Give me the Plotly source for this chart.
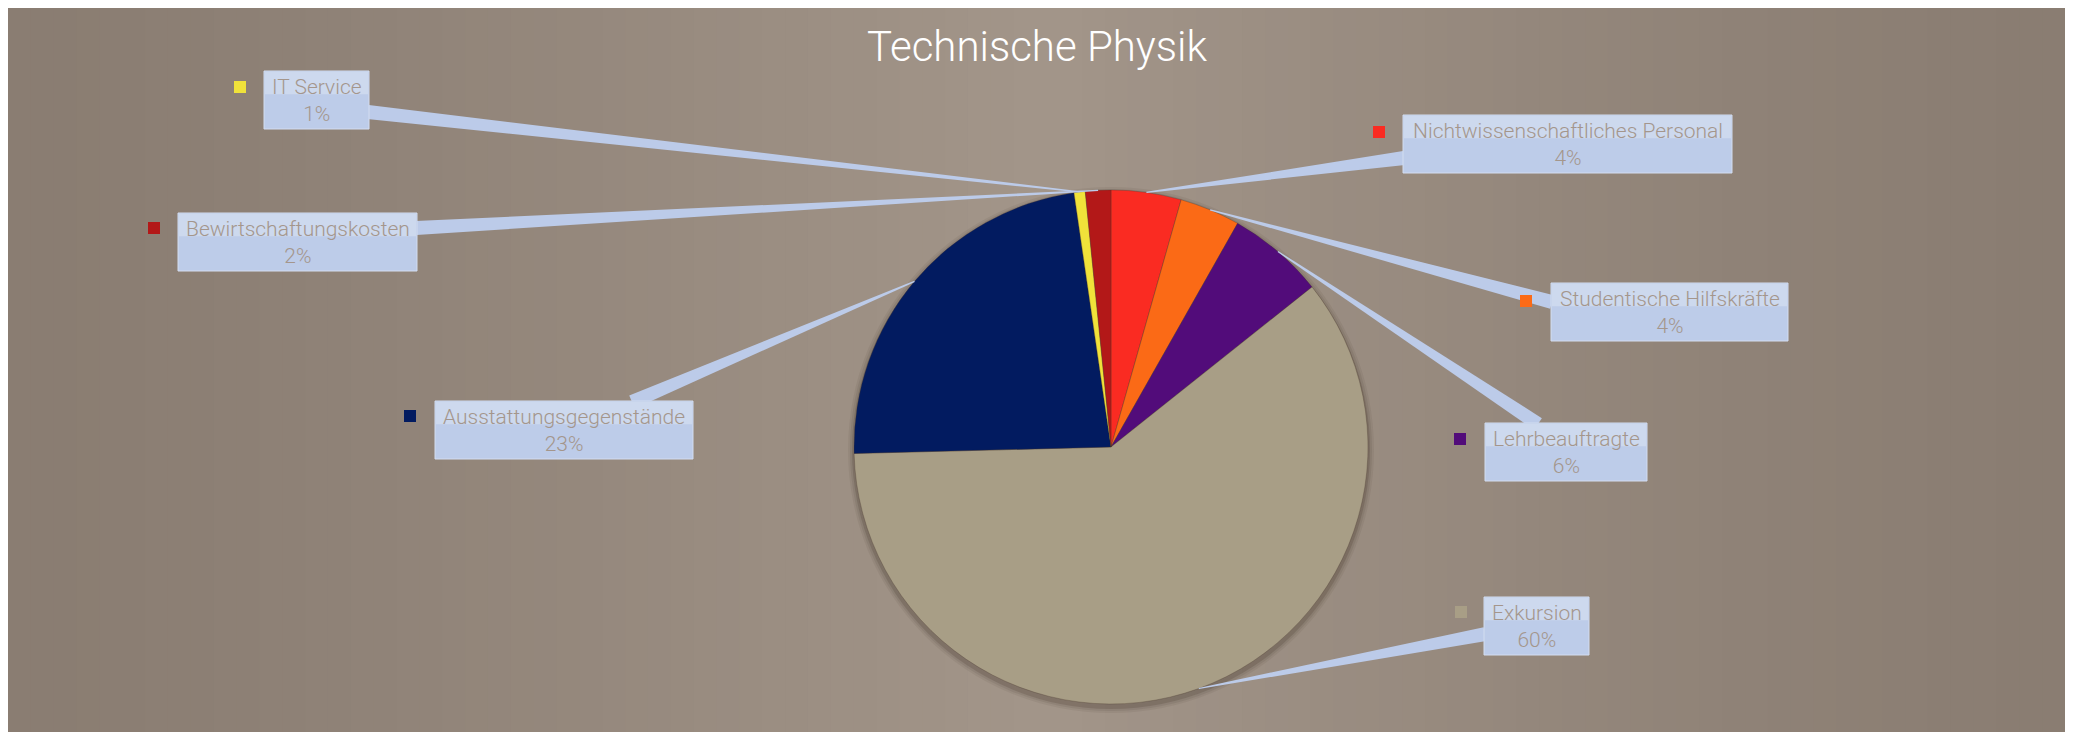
import math
import plotly.graph_objects as go

# --- data -------------------------------------------------------------
labels = ["Nichtwissenschaftliches Personal", "Studentische Hilfskräfte",
          "Lehrbeauftragte", "Exkursion", "Ausstattungsgegenstände",
          "IT Service", "Bewirtschaftungskosten"]
values = [4.4, 3.8, 6.1, 60.3, 23.1, 0.7, 1.6]
title = "Technische Physik"

# --- style / layout ---------------------------------------------------
colors = ["#fa2b22", "#fb6a16", "#520c7a", "#a89e86", "#021b60", "#f0e23a", "#b31818"]
W, H = 2074, 732
OFF = 8  # page body margin
cx, cy, rad = 1111, 447, 257

# callout boxes in page px: left, top, right, bottom, leader anchor (x, y), key square (x, y)
boxes = [
    (1403, 115, 1732, 173, (1404, 158), (1373, 126)),
    (1551, 283, 1788, 341, (1552, 302), (1520, 295)),
    (1485, 423, 1647, 481, (1538, 424), (1454, 433)),
    (1484, 597, 1589, 655, (1485, 634), (1455, 606)),
    (435, 401, 693, 459, (632, 402), (404, 410)),
    (264, 71, 369, 129, (368, 112), (234, 81)),
    (178, 213, 417, 271, (416, 228), (148, 222)),
]


def px(x, y):
    return (x - OFF) / W, 1 - (y - OFF) / H


fig = go.Figure()

d0, d1 = px(cx - rad, cy + rad)
d2, d3 = px(cx + rad, cy - rad)
fig.add_trace(go.Pie(
    labels=labels, values=values, sort=False, direction="clockwise", rotation=0,
    marker=dict(colors=colors, line=dict(width=0.6, color="rgba(70,55,45,0.5)")),
    textinfo="none", hoverinfo="label+percent", showlegend=False,
    domain=dict(x=[d0, d2], y=[d1, d3]),
))

shapes = []
# background with a soft horizontal gradient
left, right, top, bottom = 8, 2065, 6, 760
n = 90
edge = (138, 125, 114)
mid = (163, 150, 138)
for i in range(n):
    x0 = left + (right - left) * i / n
    x1 = left + (right - left) * (i + 1) / n
    xc = (x0 + x1) / 2
    t = 1 - abs(xc - 1040) / 1040
    t = max(0, min(1, t)) ** 1.3
    c = tuple(int(edge[k] + (mid[k] - edge[k]) * t) for k in range(3))
    a, b = px(x0, top)
    d, e = px(min(x1 + 1, right), bottom)
    shapes.append(dict(type="rect", xref="paper", yref="paper", x0=a, y0=e, x1=d, y1=b,
                       fillcolor="rgb(%d,%d,%d)" % c, line=dict(width=0), layer="below"))

# pie shadow
for k, op in [(6, 0.07), (4, 0.10), (2, 0.18)]:
    a, b = px(cx - rad - k, cy - rad - k + 3)
    d, e = px(cx + rad + k, cy + rad + k + 3)
    shapes.append(dict(type="circle", xref="paper", yref="paper", x0=a, y0=e, x1=d, y1=b,
                       fillcolor="rgba(60,45,35,%.2f)" % op, line=dict(width=0), layer="below"))

total = sum(values)
annotations = []
cum = 0
for i, (lab, v) in enumerate(zip(labels, values)):
    theta = 2 * math.pi * (cum + v / 2) / total
    cum += v
    rx = cx + rad * math.sin(theta)
    ry = cy - rad * math.cos(theta)
    l, t, r, b, (axp, ayp), (kx, ky) = boxes[i]

    # tapered leader
    dx, dy = rx - axp, ry - ayp
    ln = math.hypot(dx, dy)
    nx, ny = -dy / ln, dx / ln
    wb, wt = 7, 0.6
    pts = [(axp + nx * wb, ayp + ny * wb), (rx + nx * wt, ry + ny * wt),
           (rx - nx * wt, ry - ny * wt), (axp - nx * wb, ayp - ny * wb)]
    path = "M " + " L ".join("%.5f,%.5f" % px(*p) for p in pts) + " Z"
    shapes.append(dict(type="path", xref="paper", yref="paper", path=path,
                       fillcolor="#bccbe9", line=dict(width=0), layer="above"))

    # callout box
    a, bb = px(l, t)
    d, e = px(r, b)
    shapes.append(dict(type="rect", xref="paper", yref="paper", x0=a, y0=e, x1=d, y1=bb,
                       fillcolor="#bdcce9", line=dict(width=1, color="#d3ddf0"), layer="above"))
    a2, b2 = px(l + 1, t + 1)
    d2, e2 = px(r - 1, t + (b - t) * 0.4)
    shapes.append(dict(type="rect", xref="paper", yref="paper", x0=a2, y0=e2, x1=d2, y1=b2,
                       fillcolor="rgba(255,255,255,0.25)", line=dict(width=0), layer="above"))

    # key square
    a, bb = px(kx, ky)
    d, e = px(kx + 12, ky + 12)
    shapes.append(dict(type="rect", xref="paper", yref="paper", x0=a, y0=e, x1=d, y1=bb,
                       fillcolor=colors[i], line=dict(width=0), layer="above"))

    pct = "%d%%" % round(v / total * 100)
    xm, ym = px((l + r) / 2, (t + b) / 2)
    annotations.append(dict(
        x=xm, y=ym, xref="paper", yref="paper", xanchor="center", yanchor="middle",
        text=lab + "<br>" + pct, showarrow=False, align="center",
        font=dict(family="Roboto", size=21, color="#a4968c", weight=300),
    ))

tx, ty = px(1037, 46)
fig.update_layout(
    width=W, height=H,
    margin=dict(l=0, r=0, t=0, b=0),
    paper_bgcolor="white",
    title=dict(text=title, x=tx, xanchor="center", y=ty, yanchor="middle",
               font=dict(family="Roboto", size=42, color="white", weight=300)),
    shapes=shapes,
    annotations=annotations,
)

fig.write_html("out.html")
